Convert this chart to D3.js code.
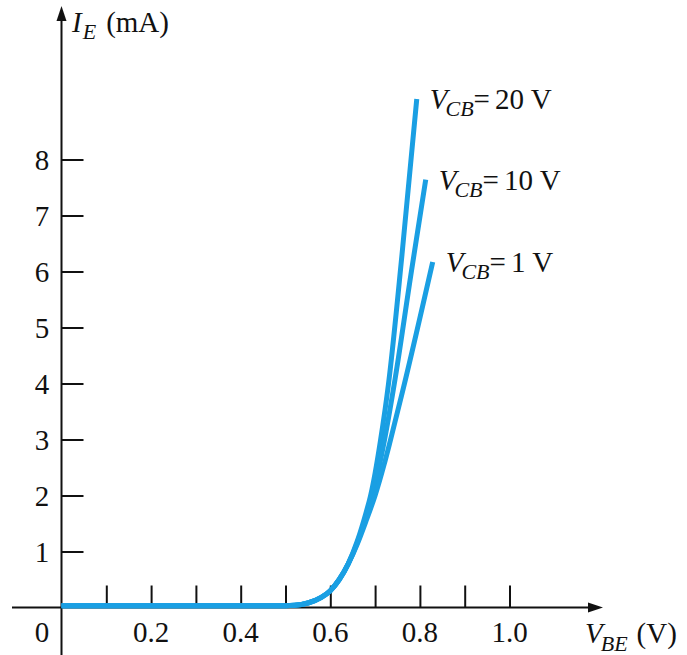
<!DOCTYPE html>
<html>
<head>
<meta charset="utf-8">
<script src="https://cdn.jsdelivr.net/npm/d3@7"></script>
<style>
  body { margin: 0; background: #fff; }
  text { font-family: "Liberation Serif", "DejaVu Serif", serif; fill: #111; }
</style>
</head>
<body>
<div id="chart"></div>
<script>
// shared lower part of the curves (they overlap below ~1 mA)
var vbeBase = [0, 0.1, 0.2, 0.3, 0.4, 0.48, 0.52, 0.55, 0.58, 0.60, 0.62, 0.64];
var ieBase  = [0.03, 0.03, 0.03, 0.03, 0.03, 0.03, 0.04, 0.08, 0.18, 0.3, 0.5, 0.78];

// upper parts, one per V_CB
var vbe20 = [0.66, 0.68, 0.69, 0.70, 0.712, 0.73, 0.76, 0.793];
var ie20  = [1.18, 1.7, 2.0, 2.4, 2.98, 4.0, 6.3, 9.08];
var vbe10 = [0.66, 0.68, 0.69, 0.70, 0.72, 0.745, 0.78, 0.813];
var ie10  = [1.15, 1.62, 1.9, 2.2, 2.95, 4.1, 5.95, 7.64];
var vbe1  = [0.66, 0.68, 0.70, 0.72, 0.734, 0.762, 0.8286];
var ie1   = [1.13, 1.55, 2.0, 2.55, 2.98, 3.88, 6.17];

var vcbValues = ["20", "10", "1"];

var xTicks = [0.1, 0.2, 0.3, 0.4, 0.5, 0.6, 0.7, 0.8, 0.9, 1.0];
var xLabels = [0.2, 0.4, 0.6, 0.8, 1.0];
var yTicks = [1, 2, 3, 4, 5, 6, 7, 8];

var width = 687, height = 655;

var svg = d3.select("#chart").append("svg")
	.attr("width", width)
	.attr("height", height);

var x = d3.scaleLinear().domain([0, 1]).range([61.5, 509.5]);
var y = d3.scaleLinear().domain([0, 8]).range([607.5, 159.5]);

/////////////////////////////// Axes ///////////////////////////////

var axisColor = "#111";

//x axis line + arrow
svg.append("line")
	.attr("x1", 12).attr("x2", 592)
	.attr("y1", y(0)).attr("y2", y(0))
	.style("stroke", axisColor).style("stroke-width", 2);
svg.append("path")
	.attr("d", "M588," + (y(0) - 5) + "L603," + y(0) + "L588," + (y(0) + 5) + "Z")
	.style("fill", axisColor);

//y axis line + arrow
svg.append("line")
	.attr("x1", x(0)).attr("x2", x(0))
	.attr("y1", height).attr("y2", 18)
	.style("stroke", axisColor).style("stroke-width", 2);
svg.append("path")
	.attr("d", "M" + (x(0) - 5) + ",21L" + x(0) + ",6L" + (x(0) + 5) + ",21Z")
	.style("fill", axisColor);

//ticks
var xAxis = svg.append("g")
	.attr("transform", "translate(0," + y(0) + ")")
	.call(d3.axisBottom(x).tickValues(xTicks).tickSize(-22).tickFormat(""));
xAxis.select(".domain").remove();
xAxis.selectAll(".tick line").style("stroke", axisColor).style("stroke-width", 2);

var yAxis = svg.append("g")
	.attr("transform", "translate(" + x(0) + ",0)")
	.call(d3.axisLeft(y).tickValues(yTicks).tickSize(-22).tickFormat(""));
yAxis.select(".domain").remove();
yAxis.selectAll(".tick line").style("stroke", axisColor).style("stroke-width", 2);

//tick labels
svg.selectAll(".x-label")
	.data(xLabels)
	.enter().append("text")
	.attr("class", "x-label")
	.attr("x", function(d) { return x(d); })
	.attr("y", 642)
	.attr("text-anchor", "middle")
	.style("font-size", "29px")
	.text(d3.format(".1f"));

svg.append("text")
	.attr("x", 42)
	.attr("y", 642)
	.attr("text-anchor", "middle")
	.style("font-size", "29px")
	.text("0");

svg.selectAll(".y-label")
	.data(yTicks)
	.enter().append("text")
	.attr("class", "y-label")
	.attr("x", 42)
	.attr("y", function(d) { return y(d) + 10; })
	.attr("text-anchor", "middle")
	.style("font-size", "29px")
	.text(function(d) { return d; });

//axis titles
var yTitle = svg.append("text")
	.attr("x", 72)
	.attr("y", 32)
	.style("font-size", "29px");
yTitle.append("tspan").style("font-style", "italic").text("I");
yTitle.append("tspan").attr("dy", 7).attr("dx", 1).style("font-style", "italic").style("font-size", "22px").text("E");
yTitle.append("tspan").attr("dy", -7).attr("dx", 10).text("(mA)");

var xTitle = svg.append("text")
	.attr("x", 585)
	.attr("y", 643)
	.style("font-size", "29px");
xTitle.append("tspan").style("font-style", "italic").text("V");
xTitle.append("tspan").attr("dy", 8).attr("dx", -2).style("font-style", "italic").style("font-size", "22px").text("BE");
xTitle.append("tspan").attr("dy", -8).attr("dx", 9).text("(V)");

/////////////////////////////// Curves ///////////////////////////////

function makeSeries(vTop, iTop) {
	var vs = vbeBase.concat(vTop), is = ieBase.concat(iTop);
	return vs.map(function(v, i) { return {v: v, i: is[i]}; });
}

var series = [
	makeSeries(vbe20, ie20),
	makeSeries(vbe10, ie10),
	makeSeries(vbe1, ie1)
];

var line = d3.line()
	.x(function(d) { return x(d.v); })
	.y(function(d) { return y(d.i); })
	.curve(d3.curveMonotoneX);

svg.selectAll(".curve")
	.data(series)
	.enter().append("path")
	.attr("class", "curve")
	.attr("d", line)
	.style("fill", "none")
	.style("stroke", "#1a9fe3")
	.style("stroke-width", 5)
	.style("stroke-linecap", "butt");

//curve labels at the end of each line
series.forEach(function(s, k) {
	var end = s[s.length - 1];
	var t = svg.append("text")
		.attr("x", x(end.v) + 13)
		.attr("y", y(end.i) + 10)
		.style("font-size", "29px");
	t.append("tspan").style("font-style", "italic").text("V");
	t.append("tspan").attr("dy", 7).attr("dx", -2).style("font-style", "italic").style("font-size", "22px").text("CB");
	t.append("tspan").attr("dy", -7).text("=");
	t.append("tspan").attr("dx", 5).text(vcbValues[k] + " V");
});
</script>
</body>
</html>
